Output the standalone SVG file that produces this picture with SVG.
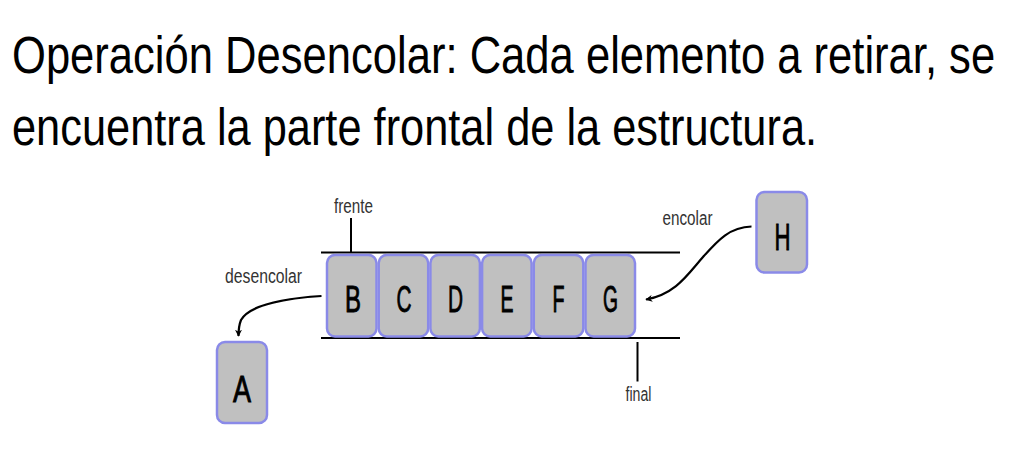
<svg xmlns="http://www.w3.org/2000/svg" width="1030" height="452" viewBox="0 0 1030 452">
  <style>
    .title { font-family: "Liberation Sans", Arial, sans-serif; font-size: 52px; fill: #000; }
    .lbl { font-family: "Liberation Sans", Arial, sans-serif; font-size: 20px; fill: #333; }
    .box { fill: #c0c0c0; stroke: #8a8ae8; stroke-width: 2.5; }
    .let { font-family: "Liberation Sans", Arial, sans-serif; font-size: 36px; fill: #000; stroke: #000; stroke-width: 0.9; }
    .rail { stroke: #000; stroke-width: 2; }
    .conn { fill: none; stroke: #000; stroke-width: 2.2; }
  </style>
  <defs>
    <marker id="arr" viewBox="0 0 10 10" refX="9" refY="5" markerWidth="7" markerHeight="7" markerUnits="userSpaceOnUse" orient="auto">
      <path d="M0,0 L10,5 L0,10 L3,5 Z" fill="#000"/>
    </marker>
  </defs>
  <rect width="1030" height="452" fill="#fff"/>
  <g id="title">
    <text class="title" transform="translate(12,73) scale(0.836,1)" x="0" y="0" textLength="1176" lengthAdjust="spacingAndGlyphs">Operación Desencolar: Cada elemento a retirar, se</text>
    <text class="title" transform="translate(12,145) scale(0.836,1)" x="0" y="0" textLength="963" lengthAdjust="spacingAndGlyphs">encuentra la parte frontal de la estructura.</text>
  </g>
  <g id="queue">
    <line class="rail" x1="321" y1="252.5" x2="680" y2="252.5"/>
    <line class="rail" x1="321" y1="338" x2="680" y2="338"/>
  </g>
  <g id="node-B"><rect class="box" x="327" y="255" width="49.5" height="81.5" rx="8"/><text class="let" x="345" y="311.5" textLength="16" lengthAdjust="spacingAndGlyphs">B</text></g>
  <g id="node-C"><rect class="box" x="378.7" y="255" width="49.5" height="81.5" rx="8"/><text class="let" x="396.5" y="311.5" textLength="15" lengthAdjust="spacingAndGlyphs">C</text></g>
  <g id="node-D"><rect class="box" x="430.4" y="255" width="49.5" height="81.5" rx="8"/><text class="let" x="448" y="311.5" textLength="15" lengthAdjust="spacingAndGlyphs">D</text></g>
  <g id="node-E"><rect class="box" x="482.1" y="255" width="49.5" height="81.5" rx="8"/><text class="let" x="500.5" y="311.5" textLength="13" lengthAdjust="spacingAndGlyphs">E</text></g>
  <g id="node-F"><rect class="box" x="533.8" y="255" width="49.5" height="81.5" rx="8"/><text class="let" x="552.5" y="311.5" textLength="12" lengthAdjust="spacingAndGlyphs">F</text></g>
  <g id="node-G"><rect class="box" x="585.5" y="255" width="49.5" height="81.5" rx="8"/><text class="let" x="603" y="311.5" textLength="15" lengthAdjust="spacingAndGlyphs">G</text></g>
  <g id="node-A"><rect class="box" x="217" y="342" width="50" height="81" rx="8"/><text class="let" x="233" y="401.5" textLength="18" lengthAdjust="spacingAndGlyphs">A</text></g>
  <g id="node-H"><rect class="box" x="756.5" y="192" width="50.5" height="80.5" rx="8"/><text class="let" x="774.5" y="250" textLength="16" lengthAdjust="spacingAndGlyphs">H</text></g>
  <g id="labels">
    <text class="lbl" x="334" y="213" textLength="39" lengthAdjust="spacingAndGlyphs">frente</text>
    <text class="lbl" x="225" y="282.5" textLength="77" lengthAdjust="spacingAndGlyphs">desencolar</text>
    <text class="lbl" x="662.5" y="225" textLength="50" lengthAdjust="spacingAndGlyphs">encolar</text>
    <text class="lbl" x="625.5" y="400.5" textLength="26" lengthAdjust="spacingAndGlyphs">final</text>
  </g>
  <g id="connectors">
    <line class="rail" x1="351" y1="218" x2="351" y2="252"/>
    <line class="rail" x1="637.5" y1="342" x2="637.5" y2="381.5"/>
    <path class="conn" d="M321.5,296 C290,298 250,304 241,320 C239,325 238.5,330 238.5,336" marker-end="url(#arr)"/>
    <path class="conn" d="M751.5,226.5 C730,227 718,240 703,257 C688,274 676,294 646,299.5" marker-end="url(#arr)"/>
  </g>
</svg>
